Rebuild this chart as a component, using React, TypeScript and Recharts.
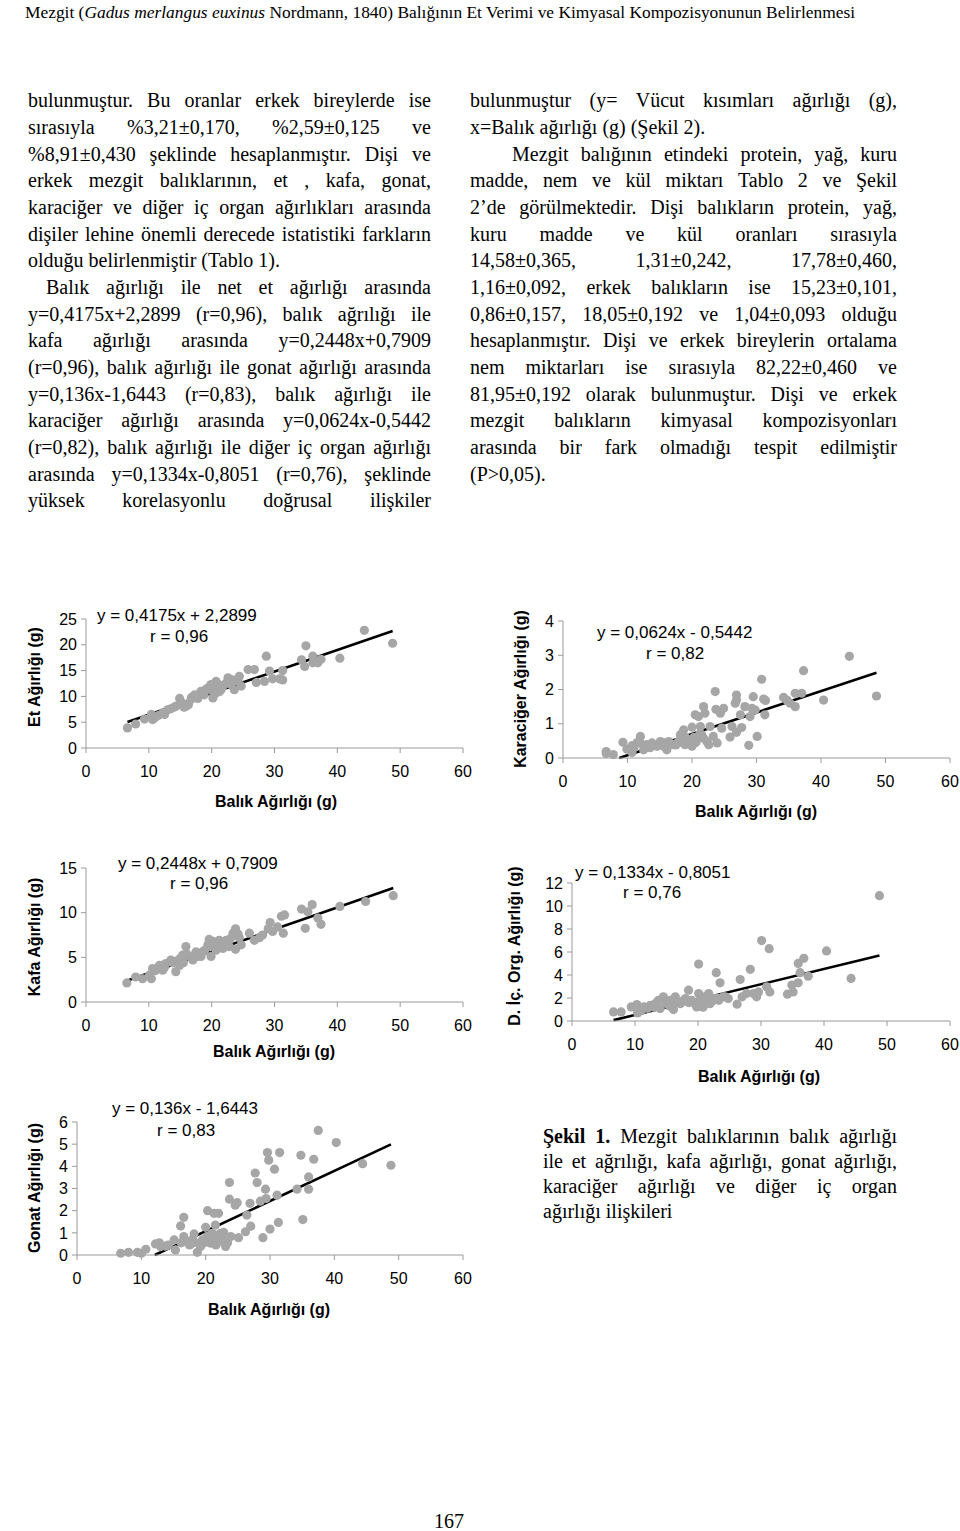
import React from 'react';
import { ScatterChart, Scatter, XAxis, YAxis, ReferenceLine } from 'recharts';

const SANS = '"Liberation Sans", Arial, sans-serif';
const SERIF = '"Liberation Serif", "Times New Roman", serif';

// balık ağırlığı ekseni (g)
const fishTicks = [0, 10, 20, 30, 40, 50, 60];

// [balık ağırlığı, parça ağırlığı]
const etPoints: [number, number][] = [
  [6.6, 3.9], [7.9, 4.65], [9.3, 5.6], [10.4, 6.5], [10.6, 5.5], [11, 5.9], [11.5, 6.3], [12.2, 6.8],
  [12.5, 6.5], [13, 7.4], [13.5, 7.6], [14, 7.9], [14.3, 8.1], [14.9, 9.6], [15.2, 8.8], [15.6, 7.9],
  [15.9, 8.1], [16.3, 8.4], [16.7, 9.4], [16.8, 9.8], [17.3, 10.3], [17.8, 9.6], [18.3, 11], [18.5, 10.7],
  [18.8, 10.3], [19.1, 11.4], [19.6, 11.8], [19.9, 12.3], [20, 11.2], [20.2, 9.7], [20.3, 12], [20.6, 10.6],
  [20.7, 12.9], [21, 12.4], [21.2, 10.9], [21.5, 11.3], [21.8, 12], [22.3, 12.6], [22.6, 13.6], [23, 12.4],
  [23.3, 13.2], [23.6, 11.3], [24.2, 13], [24.4, 13.9], [24.7, 12], [25.8, 15.2], [26.8, 15.2], [27.1, 12.7],
  [28.4, 12.9], [28.7, 17.8], [29.2, 14.9], [29.7, 13.4], [30.8, 13.4], [31.3, 15], [31.3, 13.2], [34.3, 17.1],
  [34.8, 15.8], [35, 19.8], [36.1, 17.8], [36.1, 16.5], [36.9, 16.5], [37.4, 17.2], [40.4, 17.4], [44.3, 22.8],
  [48.8, 20.3],
];
const etTicks = [0, 5, 10, 15, 20, 25];

const karacigerPoints: [number, number][] = [
  [6.7, 0.19], [6.7, 0.13], [7.8, 0.1], [9.3, 0.46], [9.9, 0.26], [10.7, 0.36], [10.7, 0.16], [11, 0.3],
  [11.5, 0.45], [12, 0.63], [12, 0.44], [12.5, 0.24], [13, 0.39], [13.5, 0.3], [13.8, 0.44], [14.6, 0.34],
  [15.1, 0.48], [15.5, 0.45], [15.6, 0.34], [16.1, 0.24], [16.4, 0.48], [17.1, 0.39], [17.5, 0.38], [17.9, 0.48],
  [18.2, 0.68], [18.5, 0.45], [18.7, 0.82], [18.9, 0.39], [19, 0.6], [19.5, 0.53], [19.8, 0.4], [20, 0.9],
  [20, 0.34], [20.3, 0.6], [20.5, 1.26], [20.6, 0.45], [20.8, 0.53], [21, 1.21], [21.2, 0.7], [21.3, 0.92],
  [21.5, 0.68], [21.8, 1.5], [21.8, 0.58], [22, 1.31], [22.3, 0.48], [22.6, 0.39], [22.8, 0.92], [23.3, 0.63],
  [23.6, 1.94], [23.7, 1.42], [23.9, 0.44], [24.4, 1.31], [24.6, 0.87], [24.9, 1.45], [25.9, 0.61], [26.2, 0.92],
  [26.7, 1.6], [26.9, 1.84], [26.9, 1.69], [26.9, 0.75], [27.5, 1.26], [27.7, 0.89], [28.2, 1.5], [28.8, 0.37],
  [29, 1.21], [29.3, 1.45], [29.5, 1.79], [29.8, 1.4], [30.1, 0.63], [30.8, 2.3], [31.1, 1.72], [31.3, 1.26],
  [31.4, 1.68], [34.2, 1.77], [34.7, 1.69], [35.2, 1.6], [36, 1.89], [36, 1.5], [37, 1.89], [37.3, 2.55],
  [40.4, 1.69], [44.4, 2.97], [48.6, 1.81],
];
const karacigerTicks = [0, 1, 2, 3, 4];

const kafaPoints: [number, number][] = [
  [6.5, 2.14], [7.9, 2.8], [9, 2.6], [10.1, 3], [10.4, 2.6], [10.6, 3.75], [11, 3.5], [11.7, 4.1],
  [12.2, 3.56], [12.5, 3.9], [12.7, 4.3], [13.5, 4.7], [13.8, 4.4], [14.3, 3.4], [14.5, 4.6], [14.9, 4.1],
  [15, 4.9], [15.4, 5.25], [15.5, 4.4], [15.9, 6.2], [16, 5.4], [16.5, 5.1], [16.8, 5], [17, 4.7],
  [17.5, 5.6], [17.8, 5.1], [18.3, 5.1], [18.5, 5.6], [18.9, 5.8], [19.4, 6.4], [19.6, 7], [19.8, 6.2],
  [19.9, 5.1], [20.2, 6.8], [20.4, 6.6], [20.7, 5.8], [21, 6.3], [21.2, 6.9], [21.5, 6.6], [21.8, 6],
  [22, 6.5], [22.3, 6.9], [22.8, 6.2], [23, 7.1], [23.4, 7.7], [23.8, 8.2], [23.8, 5.9], [24.2, 7.6],
  [24.4, 7.2], [24.7, 6.4], [26, 7.7], [26.8, 6.9], [27.6, 7.2], [28.1, 7.5], [29, 8.2], [29.3, 8.9],
  [29.7, 7.9], [30.5, 8.4], [31.1, 9.6], [31.6, 9.75], [31.4, 7.7], [34.3, 10.4], [34.9, 8.25], [35.3, 10.1],
  [36, 10.9], [36.9, 9.4], [37.4, 8.7], [40.4, 10.7], [44.5, 11.25], [48.9, 11.9],
];
const kafaTicks = [0, 5, 10, 15];

const icOrganPoints: [number, number][] = [
  [6.6, 0.79], [7.8, 0.79], [9.4, 1.22], [10.3, 1.43], [10.4, 0.7], [11, 0.9], [11.4, 1.22], [12, 1.1],
  [12.4, 1.37], [13, 1.2], [13.2, 1.51], [13.7, 1.8], [14, 1.08], [14.5, 2.1], [14.8, 1.7], [15.1, 1.51],
  [15.5, 1.3], [15.6, 1.8], [16.1, 0.99], [16.4, 2.1], [16.5, 1.6], [17.2, 1.51], [17.5, 1.7], [18, 1.95],
  [18.5, 2.68], [18.5, 1.6], [19, 1.8], [19.5, 1.5], [19.8, 1.22], [20.1, 4.95], [20.1, 2.39], [20.3, 1.8],
  [20.6, 1.51], [20.8, 1.2], [21.1, 2.1], [21.3, 1.9], [21.7, 2.39], [21.9, 1.51], [22.2, 1.7], [22.5, 1.95],
  [22.9, 4.2], [23, 2], [23.3, 1.8], [23.5, 3.32], [24, 2.1], [24.3, 2.1], [24.8, 1.95], [26.2, 1.46],
  [26.7, 3.61], [27, 2.1], [27.7, 2.39], [28.3, 4.49], [28.8, 2.39], [29.3, 2.1], [29.6, 2.53], [30.1, 6.99],
  [30.9, 2.97], [31.3, 6.29], [31.4, 2.53], [34.2, 2.33], [34.9, 3.12], [35.1, 2.53], [35.9, 5.01], [35.9, 3.32],
  [36.2, 4.2], [36.8, 5.45], [37.5, 3.9], [40.4, 6.09], [44.3, 3.7], [48.8, 10.9],
];
const icOrganTicks = [0, 2, 4, 6, 8, 10, 12];

const gonatPoints: [number, number][] = [
  [6.8, 0.08], [8, 0.12], [9.4, 0.12], [10, 0.08], [10.7, 0.26], [12.2, 0.5], [12.8, 0.55], [13, 0.38],
  [13.8, 0.4], [14.2, 0.45], [15.1, 0.68], [15.3, 0.23], [16.1, 1.31], [16.2, 0.55], [16.6, 1.7], [16.6, 0.83],
  [17.1, 0.6], [17.5, 0.45], [17.9, 0.53], [18, 0.7], [18.2, 0.95], [18.7, 0.12], [18.9, 0.53], [19.2, 0.38],
  [19.5, 0.68], [19.8, 0.55], [20, 1.25], [20.2, 0.83], [20.3, 2], [20.6, 0.85], [20.8, 0.53], [21, 0.98],
  [21.2, 0.6], [21.3, 1.88], [21.5, 1.35], [21.6, 0.45], [21.8, 0.75], [22, 1.88], [22, 0.9], [22.3, 0.98],
  [22.4, 0.62], [22.6, 0.75], [22.8, 1.02], [23.1, 0.38], [23.4, 0.55], [23.7, 3.27], [23.7, 2.52], [23.9, 0.83],
  [24.6, 2.25], [24.9, 2.36], [25.1, 0.78], [26.2, 1.05], [26.4, 1.8], [26.9, 2.33], [27, 1.3], [27.7, 3.7],
  [28, 3.27], [28.5, 2.43], [28.9, 0.78], [29.3, 2.97], [29.4, 2.55], [29.6, 4.62], [29.8, 4.28], [30, 1.17],
  [30.7, 3.87], [31.1, 2.7], [31.3, 1.47], [31.5, 4.62], [34.2, 2.97], [34.8, 4.5], [35.1, 1.6], [36, 3.52],
  [36, 2.97], [36.8, 4.32], [37.5, 5.62], [40.3, 5.07], [44.4, 4.12], [48.8, 4.05],
];
const gonatTicks = [0, 1, 2, 3, 4, 5, 6];

type Panel = {
  id: string;
  points: [number, number][];
  yTicks: number[];
  slope: number;
  intercept: number;
  eq: string;
  r: string;
  yTitle: string;
  box: { x0: number; x1: number; top: number; bottom: number };
  eqAt: [number, number];
  rAt: [number, number];
  xTitleAt: [number, number];
  yTitleAt: [number, number];
};

const panels: Panel[] = [
  {
    id: 'et', points: etPoints, yTicks: etTicks, slope: 0.4175, intercept: 2.2899,
    eq: 'y = 0,4175x + 2,2899', r: 'r = 0,96', yTitle: 'Et Ağırlığı (g)',
    box: { x0: 86, x1: 463, top: 619, bottom: 748 },
    eqAt: [97, 615], rAt: [150, 636], xTitleAt: [276, 802], yTitleAt: [35, 677],
  },
  {
    id: 'karaciger', points: karacigerPoints, yTicks: karacigerTicks, slope: 0.0624, intercept: -0.5442,
    eq: 'y = 0,0624x - 0,5442', r: 'r = 0,82', yTitle: 'Karaciğer Ağırlığı (g)',
    box: { x0: 563, x1: 950, top: 621, bottom: 758 },
    eqAt: [597, 632], rAt: [646, 653], xTitleAt: [756, 812], yTitleAt: [521, 689],
  },
  {
    id: 'kafa', points: kafaPoints, yTicks: kafaTicks, slope: 0.2448, intercept: 0.7909,
    eq: 'y = 0,2448x + 0,7909', r: 'r = 0,96', yTitle: 'Kafa Ağırlığı (g)',
    box: { x0: 86, x1: 463, top: 868, bottom: 1002 },
    eqAt: [118, 863], rAt: [170, 883], xTitleAt: [274, 1052], yTitleAt: [35, 937],
  },
  {
    id: 'ic', points: icOrganPoints, yTicks: icOrganTicks, slope: 0.1334, intercept: -0.8051,
    eq: 'y = 0,1334x - 0,8051', r: 'r = 0,76', yTitle: 'D. İç. Org. Ağırlığı (g)',
    box: { x0: 572, x1: 950, top: 883, bottom: 1021 },
    eqAt: [575, 872], rAt: [623, 892], xTitleAt: [759, 1077], yTitleAt: [515, 946],
  },
  {
    id: 'gonat', points: gonatPoints, yTicks: gonatTicks, slope: 0.136, intercept: -1.6443,
    eq: 'y = 0,136x - 1,6443', r: 'r = 0,83', yTitle: 'Gonat Ağırlığı (g)',
    box: { x0: 77, x1: 463, top: 1122, bottom: 1255 },
    eqAt: [112, 1108], rAt: [157, 1130], xTitleAt: [269, 1310], yTitleAt: [35, 1188],
  },
];

const leftLines: { t: string; j: boolean; indent?: boolean }[] = [
  { t: 'bulunmuştur. Bu oranlar erkek bireylerde ise', j: true },
  { t: 'sırasıyla %3,21±0,170, %2,59±0,125 ve', j: true },
  { t: '%8,91±0,430 şeklinde hesaplanmıştır. Dişi ve', j: true },
  { t: 'erkek mezgit balıklarının, et , kafa, gonat,', j: true },
  { t: 'karaciğer ve diğer iç organ ağırlıkları arasında', j: true },
  { t: 'dişiler lehine önemli derecede istatistiki farkların', j: true },
  { t: 'olduğu belirlenmiştir (Tablo 1).', j: false },
  { t: 'Balık ağırlığı ile net et ağırlığı arasında', j: true, indent: true },
  { t: 'y=0,4175x+2,2899 (r=0,96), balık ağrılığı ile', j: true },
  { t: 'kafa ağırlığı arasında y=0,2448x+0,7909', j: true },
  { t: '(r=0,96), balık ağırlığı ile gonat ağırlığı arasında', j: true },
  { t: 'y=0,136x-1,6443 (r=0,83), balık ağırlığı ile', j: true },
  { t: 'karaciğer ağırlığı arasında y=0,0624x-0,5442', j: true },
  { t: '(r=0,82), balık ağırlığı ile diğer iç organ ağırlığı', j: true },
  { t: 'arasında y=0,1334x-0,8051 (r=0,76), şeklinde', j: true },
  { t: 'yüksek korelasyonlu doğrusal ilişkiler', j: true },
];

const rightLines: { t: string; j: boolean; indent?: boolean }[] = [
  { t: 'bulunmuştur (y= Vücut kısımları ağırlığı (g),', j: true },
  { t: 'x=Balık ağırlığı (g) (Şekil 2).', j: false },
  { t: 'Mezgit balığının etindeki protein, yağ, kuru', j: true, indent: true },
  { t: 'madde, nem ve kül miktarı Tablo 2 ve Şekil', j: true },
  { t: '2’de görülmektedir. Dişi balıkların protein, yağ,', j: true },
  { t: 'kuru madde ve kül oranları sırasıyla', j: true },
  { t: '14,58±0,365, 1,31±0,242, 17,78±0,460,', j: true },
  { t: '1,16±0,092, erkek balıkların ise 15,23±0,101,', j: true },
  { t: '0,86±0,157, 18,05±0,192 ve 1,04±0,093 olduğu', j: true },
  { t: 'hesaplanmıştır. Dişi ve erkek bireylerin ortalama', j: true },
  { t: 'nem miktarları ise sırasıyla 82,22±0,460 ve', j: true },
  { t: '81,95±0,192 olarak bulunmuştur. Dişi ve erkek', j: true },
  { t: 'mezgit balıkların kimyasal kompozisyonları', j: true },
  { t: 'arasında bir fark olmadığı tespit edilmiştir', j: true },
  { t: '(P>0,05).', j: false },
];

const captionLines: { t: string; j: boolean; bold?: number }[] = [
  { t: 'Şekil 1. Mezgit balıklarının balık ağırlığı', j: true, bold: 2 },
  { t: 'ile et ağrılığı, kafa ağırlığı, gonat ağırlığı,', j: true },
  { t: 'karaciğer ağırlığı ve diğer iç organ', j: true },
  { t: 'ağırlığı ilişkileri', j: false },
];

const Dot = (props: any) => <circle cx={props.cx} cy={props.cy} r={4.6} fill="#a6a6a6" />;

function ChartPanel({ p }: { p: Panel }) {
  const left = 60;
  const top = 10;
  const right = 10;
  const bottom = 40;
  const w = p.box.x1 - p.box.x0;
  const h = p.box.bottom - p.box.top;
  const data = p.points.map(([x, y]) => ({ x, y }));
  const xs = p.points.map((d) => d[0]);
  const minX = Math.min(...xs);
  const maxX = Math.max(...xs);
  const zeroX = -p.intercept / p.slope;
  const startX = Math.max(minX, zeroX);
  const yMax = p.yTicks[p.yTicks.length - 1];
  const tickStyle = { fill: '#000', fontSize: 16, fontFamily: SANS };

  return (
    <div style={{ position: 'absolute', left: p.box.x0 - left, top: p.box.top - top }}>
      <ScatterChart width={w + left + right} height={h + top + bottom} margin={{ top, right, bottom: 0, left: 0 }}>
        <XAxis
          type="number"
          dataKey="x"
          domain={[0, 60]}
          ticks={fishTicks}
          interval={0}
          height={bottom}
          tick={tickStyle}
          tickSize={5}
          tickMargin={13}
          stroke="#9a9a9a"
        />
        <YAxis
          type="number"
          dataKey="y"
          domain={[0, yMax]}
          ticks={p.yTicks}
          interval={0}
          width={left}
          tick={tickStyle}
          tickSize={5}
          tickMargin={4}
          stroke="#9a9a9a"
        />
        <Scatter data={data} shape={Dot} isAnimationActive={false} />
        <ReferenceLine
          segment={[
            { x: startX, y: p.slope * startX + p.intercept },
            { x: maxX, y: p.slope * maxX + p.intercept },
          ]}
          stroke="#000"
          strokeWidth={2.6}
        />
      </ScatterChart>
    </div>
  );
}

function PanelTexts({ p }: { p: Panel }) {
  const base: React.CSSProperties = { position: 'absolute', whiteSpace: 'nowrap', lineHeight: 1, color: '#000' };
  return (
    <>
      <div style={{ ...base, left: p.eqAt[0], top: p.eqAt[1], transform: 'translateY(-50%)', fontFamily: SANS, fontSize: 17 }}>{p.eq}</div>
      <div style={{ ...base, left: p.rAt[0], top: p.rAt[1], transform: 'translateY(-50%)', fontFamily: SANS, fontSize: 17 }}>{p.r}</div>
      <div style={{ ...base, left: p.xTitleAt[0], top: p.xTitleAt[1], transform: 'translate(-50%, -50%)', fontFamily: SANS, fontSize: 16, fontWeight: 700 }}>
        Balık Ağırlığı (g)
      </div>
      <div
        style={{
          ...base,
          left: p.yTitleAt[0],
          top: p.yTitleAt[1],
          transform: 'translate(-50%, -50%) rotate(-90deg)',
          fontFamily: SANS,
          fontSize: 16,
          fontWeight: 700,
        }}
      >
        {p.yTitle}
      </div>
    </>
  );
}

function TextLine({ x, w, baseline, text, justify, bold = 0 }: { x: number; w: number; baseline: number; text: string; justify: boolean; bold?: number }) {
  const words = text.split(' ');
  return (
    <div
      style={{
        position: 'absolute',
        left: x,
        top: baseline - 16.75,
        width: justify ? w : undefined,
        display: 'flex',
        justifyContent: justify ? 'space-between' : 'flex-start',
        gap: justify ? 0 : '0.25em',
        fontFamily: SERIF,
        fontSize: 20,
        lineHeight: '20px',
        whiteSpace: 'nowrap',
        color: '#000',
      }}
    >
      {words.map((wd, i) => (
        <span key={i} style={{ fontWeight: i < bold ? 700 : 400 }}>{wd}</span>
      ))}
    </div>
  );
}

export default function App() {
  const lineStep = 26.67;
  const firstBase = 107;
  return (
    <div style={{ position: 'absolute', left: 0, top: 0, width: 960, height: 1531, background: '#fff', overflow: 'hidden' }}>
      <svg width={960} height={30} style={{ position: 'absolute', left: 0, top: 0 }}>
        <text x={25} y={18} textLength={830} lengthAdjust="spacingAndGlyphs" fontFamily={SERIF} fontSize={16} fill="#000">
          Mezgit (<tspan fontStyle="italic">Gadus merlangus euxinus</tspan> Nordmann, 1840) Balığının Et Verimi ve Kimyasal Kompozisyonunun Belirlenmesi
        </text>
      </svg>

      {leftLines.map((l, i) => (
        <TextLine key={'l' + i} x={l.indent ? 46 : 28} w={l.indent ? 431 - 46 : 431 - 28} baseline={firstBase + i * lineStep} text={l.t} justify={l.j} />
      ))}
      {rightLines.map((l, i) => (
        <TextLine key={'r' + i} x={l.indent ? 512 : 470} w={l.indent ? 897 - 512 : 897 - 470} baseline={firstBase + i * lineStep} text={l.t} justify={l.j} />
      ))}
      {captionLines.map((l, i) => (
        <TextLine key={'c' + i} x={543} w={897 - 543} baseline={1143 + i * 25} text={l.t} justify={l.j} bold={l.bold} />
      ))}

      {panels.map((p) => (
        <ChartPanel key={p.id} p={p} />
      ))}
      {panels.map((p) => (
        <PanelTexts key={'t' + p.id} p={p} />
      ))}

      <div
        style={{
          position: 'absolute',
          left: 434,
          top: 1514,
          fontFamily: SERIF,
          fontSize: 20,
          lineHeight: '14px',
          color: '#000',
          whiteSpace: 'nowrap',
        }}
      >
        167
      </div>
    </div>
  );
}
